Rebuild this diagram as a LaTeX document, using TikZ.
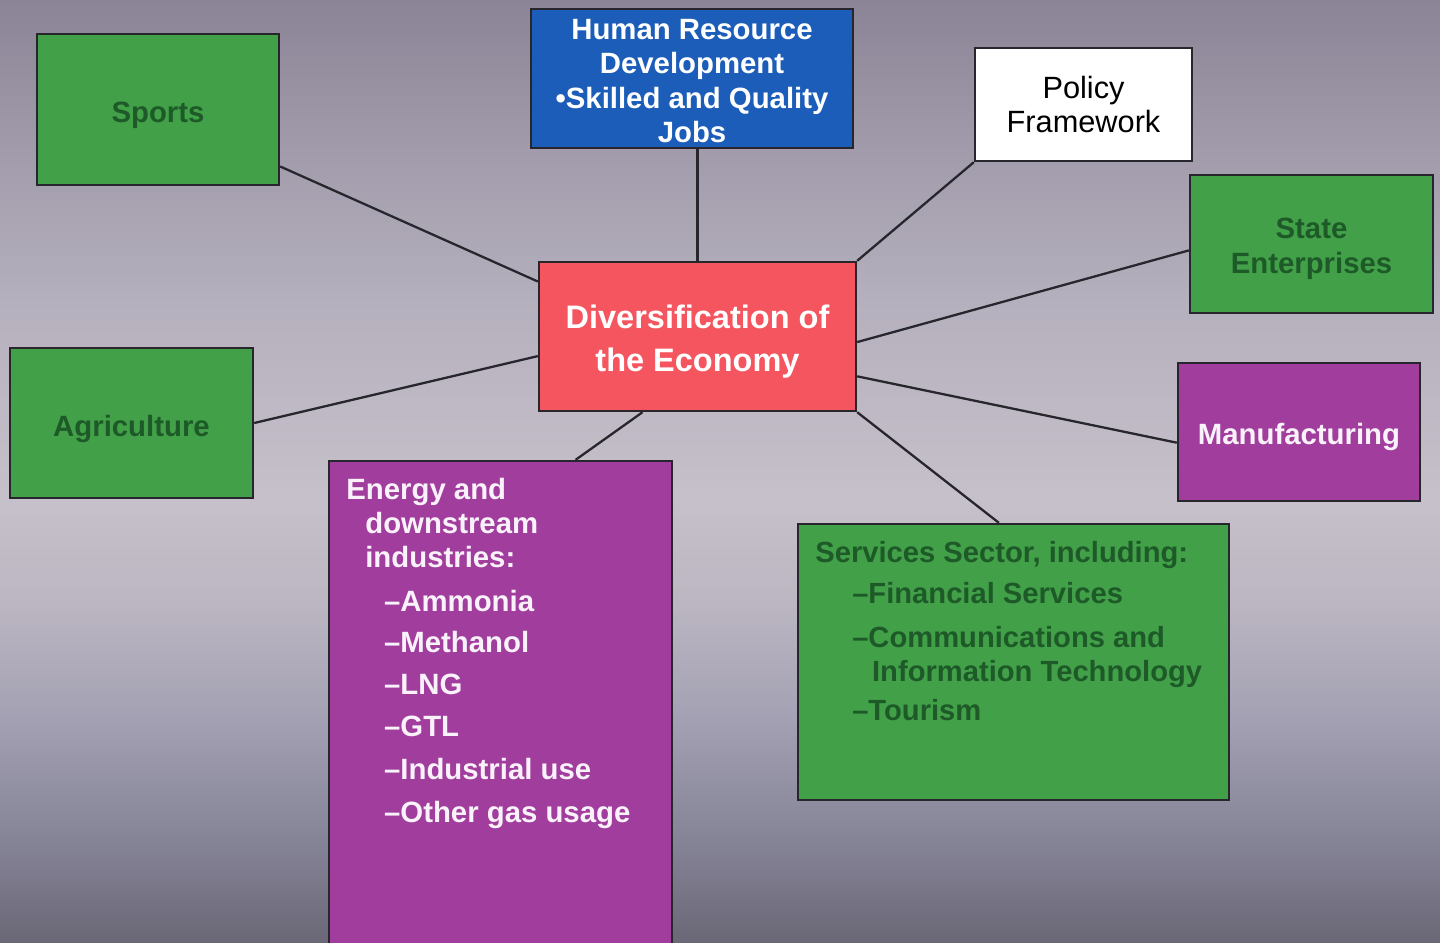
\documentclass[tikz,border=0pt]{standalone}
\usepackage{fontspec}
\setmainfont{Liberation Sans}

\definecolor{boxgreen}{HTML}{42A049}
\definecolor{txtgreen}{HTML}{1D5A28}
\definecolor{boxblue}{HTML}{1B5DB8}
\definecolor{boxred}{HTML}{F4555E}
\definecolor{boxpurple}{HTML}{A13E9D}
\definecolor{txtlight}{HTML}{FAF2FA}
\definecolor{edgedark}{HTML}{26262C}
% background stops, bottom to top
\definecolor{bgA}{HTML}{6A6876}
\definecolor{bgB}{HTML}{838194}
\definecolor{bgC}{HTML}{A3A1B3}
\definecolor{bgD}{HTML}{BCB6C2}
\definecolor{bgE}{HTML}{C6C0CA}
\definecolor{bgF}{HTML}{B5B0BD}
\definecolor{bgG}{HTML}{A19BAB}
\definecolor{bgH}{HTML}{8A8496}
\pgfdeclareverticalshading{bgshade}{100bp}{color(0bp)=(bgA); color(25bp)=(bgA); color(30bp)=(bgB); color(37bp)=(bgC); color(43bp)=(bgD); color(48.5bp)=(bgE); color(59bp)=(bgF); color(67bp)=(bgG); color(75bp)=(bgH); color(100bp)=(bgH)}

\newcommand\boxfont{\fontsize{16.7}{19.6}\selectfont}
\newcommand\dropline[1]{\rule{0pt}{#1}} % taller first line pushes the text down

\tikzset{
  box/.style={draw=edgedark, line width=1.4pt, inner sep=0pt, align=center, font=\boxfont\bfseries},
  greenbox/.style={box, fill=boxgreen, text=txtgreen},
  purplebox/.style={box, fill=boxpurple, text=txtlight},
  link/.style={edgedark, line width=1.3pt},
}

\begin{document}
\begin{tikzpicture}[x=0.02cm, y=-0.02cm]
\useasboundingbox (0,0) rectangle (1440,943);
\clip (0,0) rectangle (1440,943);
\shade[shading=bgshade] (0,0) rectangle (1440,943);

% the hub
\node[box, fill=boxred, text=white, minimum width=6.34cm, minimum height=2.98cm,
      font=\bfseries\fontsize{18.5}{24.4}\selectfont] (econ) at (697.5,336.5) {\dropline{19.2pt}Diversification of\\the Economy};

% boxes round it
\node[greenbox, minimum width=4.84cm, minimum height=3.02cm] (sports) at (158,109.5) {\dropline{18pt}Sports};
\node[box, fill=boxblue, text=white, minimum width=6.44cm, minimum height=2.78cm] (hrd) at (692,78.5) {\dropline{14.5pt}Human Resource\\Development\\\textbullet Skilled and Quality\\Jobs};
\node[box, fill=white, text=black, minimum width=4.34cm, minimum height=2.26cm,
      font=\fontsize{17.5}{19.3}\selectfont] (policy) at (1083.5,104.5) {Policy\\Framework};
\node[greenbox, minimum width=4.86cm, minimum height=2.76cm] (state) at (1311.5,244) {\dropline{17pt}State\\Enterprises};
\node[greenbox, minimum width=4.86cm, minimum height=3.00cm] (agri) at (131.5,423) {\dropline{18.5pt}Agriculture};
\node[purplebox, minimum width=4.84cm, minimum height=2.76cm] (manuf) at (1299,432) {\dropline{18pt}Manufacturing};

\node[purplebox, minimum width=6.86cm, minimum height=9.78cm] (energy) at (500.5,705.5) {};
\node[anchor=north west, inner sep=0pt, align=left, text=txtlight,
      font=\bfseries\fontsize{16.7}{19.3}\selectfont] (energytxt) at (346,478)
  {Energy and\\
   \hspace*{10.8pt}downstream\\
   \hspace*{10.8pt}industries:\\[5.5pt]
   \hspace*{21.5pt}--Ammonia\\[4.5pt]
   \hspace*{21.5pt}--Methanol\\[4.5pt]
   \hspace*{21.5pt}--LNG\\[4.8pt]
   \hspace*{21.5pt}--GTL\\[4.8pt]
   \hspace*{21.5pt}--Industrial use\\[5pt]
   \hspace*{21.5pt}--Other gas usage};

\node[greenbox, minimum width=8.62cm, minimum height=5.52cm] (services) at (1013.5,662) {};
\node[anchor=north west, inner sep=0pt, align=left, text=txtgreen,
      font=\bfseries\fontsize{16.6}{19.8}\selectfont] (servicestxt) at (815,541)
  {Services Sector, including:\\[3.5pt]
   \hspace*{21pt}--Financial Services\\[5pt]
   \hspace*{21pt}--Communications and\\
   \hspace*{32.3pt}Information Technology\\[2pt]
   \hspace*{21pt}--Tourism};

% spokes
\draw[link] (sports.-25) -- (econ.161);
\draw[link] (hrd.south -| econ.north) -- (econ.north);
\draw[link] (policy.south west) -- (econ.north east);
\draw[link] (state.183) -- (econ.-2);
\draw[link] (agri.east) -- (econ.187);
\draw[link] (manuf.185) -- (econ.-14);
\draw[link] (services.96) -- (econ.south east);
\draw[link] (energy.73.5) -- (econ.-126);
\end{tikzpicture}
\end{document}
